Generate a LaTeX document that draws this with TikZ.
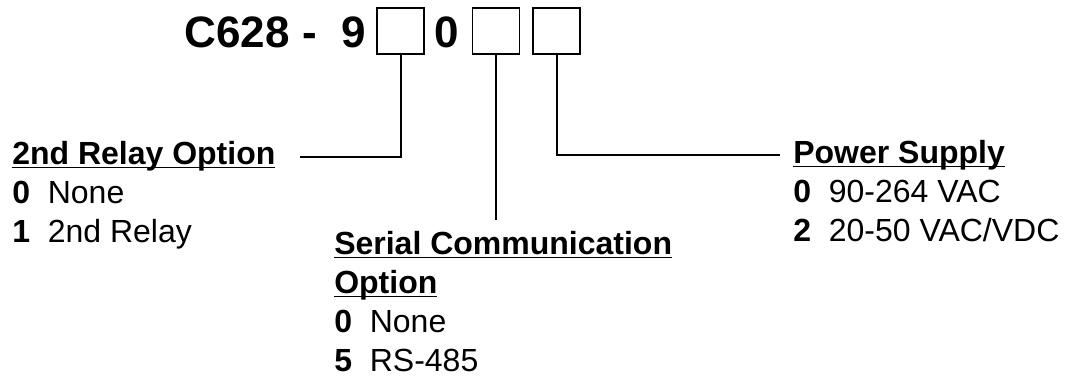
\documentclass[tikz,border=0pt]{standalone}
\usepackage{fontspec}
\setmainfont{Liberation Sans}
\usetikzlibrary{positioning}
\newsavebox\hdgbox
\newcommand\hdg[1]{\sbox\hdgbox{\textbf{#1}}\rlap{\rule[-2.6pt]{\wd\hdgbox}{1.3pt}}\usebox\hdgbox}

\begin{document}
\begin{tikzpicture}[
  x=0.75pt, y=-0.75pt,
  digit/.style={draw, line width=1.1pt, minimum width=35pt, minimum height=34.5pt, inner sep=0pt},
  title/.style={font=\fontsize{33}{40}\selectfont\bfseries, inner sep=0pt},
  opt/.style={align=left, inner sep=0pt, font=\fontsize{24}{29.25}\selectfont, anchor=base west},
  lead/.style={line width=1.5pt}
]
\useasboundingbox (0,0) rectangle (1072,377);

% part number
\node[title, anchor=base east] (pn) at (366,48) {C628 -\ \ 9};
\node[digit] (b1) at (400.5,31) {};
\node[title, anchor=base] (zero) at (447,48) {0};
\node[digit] (b2) at (496,31) {};
\node[digit] (b3) at (556.5,31) {};

% option blocks (anchored at the baseline of the last line)
\node[opt] (relay) at (12,243) {\hdg{2nd Relay Option}\\\textbf{0}\ \ None\\\textbf{1}\ \ 2nd Relay};
\node[opt] (serial) at (334,372) {\hdg{Serial Communication}\\\hdg{Option}\\\textbf{0}\ \ None\\\textbf{5}\ \ RS-485};
\node[opt] (power) at (793,242) {\hdg{Power Supply}\\\textbf{0}\ \ 90-264 VAC\\\textbf{2}\ \ 20-50 VAC/VDC};

\coordinate (relayend) at (300,157);
\coordinate (serialend) at (496,220);
\coordinate (powerend) at (780,155);

\draw[lead] (b1.south) |- (relayend);
\draw[lead] (b2.south) -- (serialend);
\draw[lead] (b3.south) |- (powerend);
\end{tikzpicture}
\end{document}
